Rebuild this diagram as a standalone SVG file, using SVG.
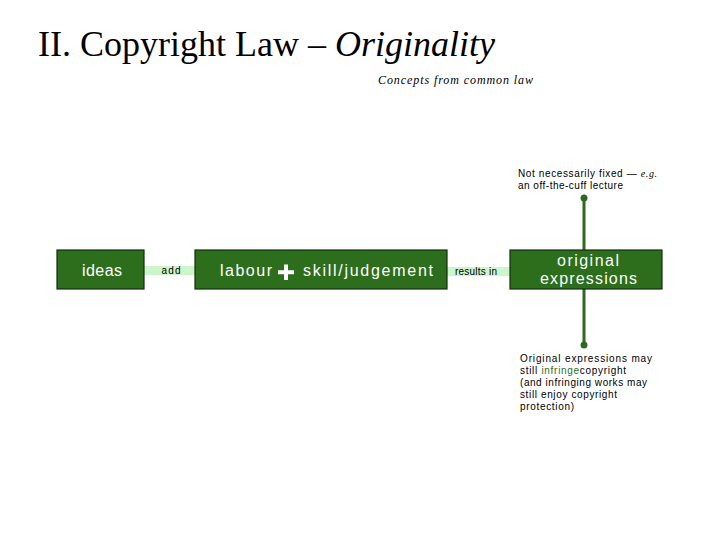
<svg xmlns="http://www.w3.org/2000/svg" width="720" height="540" viewBox="0 0 720 540">
<style>
.box{fill:#2c6e1c;stroke:#10300a;stroke-width:1.2}
.band{fill:#ccf5cc}
.bt{font-family:"Liberation Sans",Arial,sans-serif;fill:#ffffff;font-size:16px}
.sm{font-family:"Liberation Sans",Arial,sans-serif;fill:#000000;font-size:10px}
.note{font-family:"Liberation Sans",Arial,sans-serif;fill:#000000;font-size:10px}
.ln{stroke:#2c6a1e;stroke-width:3;fill:none}
.dot{fill:#2c6a1e}
</style>
<rect width="720" height="540" fill="#ffffff"/>
<g id="title">
<text x="38" y="56" font-family="'Liberation Serif','Times New Roman',serif" font-size="36" fill="#000">II. Copyright Law – <tspan font-style="italic">Originality</tspan></text>
<text x="378" y="84" font-family="'Liberation Serif','Times New Roman',serif" font-size="12" font-style="italic" fill="#000" textLength="155" lengthAdjust="spacing">Concepts from common law</text>
</g>
<g id="connectors">
<rect class="band" x="144" y="266" width="51" height="9"/>
<text class="sm" x="171" y="274" text-anchor="middle" textLength="19" lengthAdjust="spacing">add</text>
<rect class="band" x="447" y="267" width="63" height="9"/>
<text class="sm" x="455" y="275" textLength="42" lengthAdjust="spacing">results in</text>
<line class="ln" x1="584" y1="198" x2="584" y2="250"/>
<circle class="dot" cx="584" cy="198" r="3.5"/>
<line class="ln" x1="584" y1="289" x2="584" y2="345"/>
<circle class="dot" cx="584" cy="345" r="3.5"/>
</g>
<g id="ideas">
<rect class="box" x="57" y="250" width="87" height="39"/>
<text class="bt" x="82" y="276" textLength="40" lengthAdjust="spacing">ideas</text>
</g>
<g id="labour-skill">
<rect class="box" x="195" y="250" width="252" height="39"/>
<text class="bt" x="220" y="276" textLength="52" lengthAdjust="spacing">labour</text>
<path d="M286 264.5 V280 M278 272.2 H294" stroke="#ffffff" stroke-width="4" fill="none"/>
<text class="bt" x="303" y="276" textLength="130" lengthAdjust="spacing">skill/judgement</text>
</g>
<g id="original-expressions">
<rect class="box" x="510" y="250" width="152" height="39"/>
<text class="bt" x="588" y="266" text-anchor="middle" textLength="62" lengthAdjust="spacing">original</text>
<text class="bt" x="588.5" y="284" text-anchor="middle" textLength="97" lengthAdjust="spacing">expressions</text>
</g>
<g id="note-top">
<text class="note" x="518" y="177" textLength="139" lengthAdjust="spacing">Not necessarily fixed — <tspan font-family="'Liberation Serif',serif" font-style="italic">e.g.</tspan></text>
<text class="note" x="518" y="189" textLength="105" lengthAdjust="spacing">an off-the-cuff lecture</text>
</g>
<g id="note-bottom">
<text class="note" x="520" y="362" textLength="132" lengthAdjust="spacing">Original expressions may</text>
<text class="note" x="520" y="374" textLength="106" lengthAdjust="spacing">still <tspan fill="#2c6e1c">infringe</tspan>copyright</text>
<text class="note" x="520" y="386" textLength="127" lengthAdjust="spacing">(and infringing works may</text>
<text class="note" x="520" y="398" textLength="97" lengthAdjust="spacing">still enjoy copyright</text>
<text class="note" x="520" y="410" textLength="54" lengthAdjust="spacing">protection)</text>
</g>
</svg>
